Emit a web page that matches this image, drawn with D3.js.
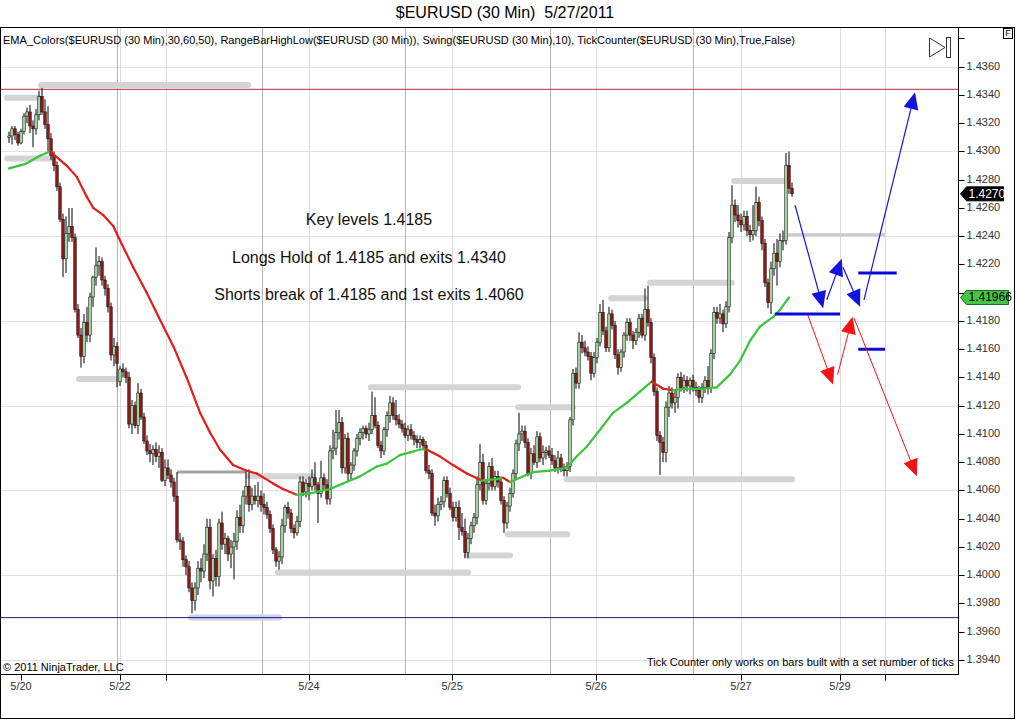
<!DOCTYPE html>
<html><head><meta charset="utf-8">
<script src="https://cdn.jsdelivr.net/npm/d3@7"></script>
<style>body{margin:0;background:#fff}svg{display:block;font-family:"Liberation Sans",Arial,sans-serif}text{white-space:pre}</style>
</head><body><svg id="c" width="1016" height="720"></svg>
<script>
// ---------- DATA ----------
const titleText = "$EURUSD (30 Min)  5/27/2011";
const indicatorText = "EMA_Colors($EURUSD (30 Min),30,60,50), RangeBarHighLow($EURUSD (30 Min)), Swing($EURUSD (30 Min),10), TickCounter($EURUSD (30 Min),True,False)";
const notes = ["Key levels 1.4185","Longs Hold of 1.4185 and exits 1.4340","Shorts break of 1.4185 and 1st exits 1.4060"];
const notePrices = [1.4251,1.4224,1.4198];
const noteBar = 120;

// 30-minute bars: [open, high, low, close]
const ohlc = [
[1.4310,1.4314,1.4306,1.4311],[1.4311,1.4318,1.4305,1.4316],[1.4316,1.4318,1.4308,1.4312],[1.4312,1.4314,1.4304,1.4306],
[1.4306,1.4316,1.4305,1.4314],[1.4314,1.4327,1.4312,1.4325],[1.4325,1.4331,1.4320,1.4328],[1.4328,1.4333,1.4313,1.4318],
[1.4318,1.4322,1.4303,1.4316],[1.4316,1.4330,1.4312,1.4326],[1.4326,1.4343,1.4322,1.4339],[1.4339,1.4345,1.4326,1.4328],
[1.4328,1.4337,1.4316,1.4319],[1.4319,1.4332,1.4300,1.4309],[1.4309,1.4313,1.4294,1.4297],[1.4297,1.4300,1.4286,1.4290],
[1.4290,1.4293,1.4272,1.4275],[1.4275,1.4278,1.4250,1.4252],[1.4252,1.4256,1.4211,1.4224],[1.4224,1.4254,1.4214,1.4242],
[1.4242,1.4260,1.4236,1.4247],[1.4247,1.4260,1.4236,1.4239],[1.4239,1.4242,1.4186,1.4188],[1.4188,1.4192,1.4168,1.4170],
[1.4170,1.4175,1.4147,1.4155],[1.4155,1.4185,1.4150,1.4179],[1.4179,1.4190,1.4165,1.4170],[1.4170,1.4200,1.4165,1.4197],
[1.4197,1.4212,1.4190,1.4211],[1.4211,1.4232,1.4205,1.4219],[1.4219,1.4226,1.4212,1.4222],[1.4222,1.4225,1.4205,1.4209],
[1.4209,1.4212,1.4198,1.4203],[1.4203,1.4206,1.4186,1.4190],[1.4190,1.4193,1.4152,1.4156],[1.4156,1.4168,1.4148,1.4162],
[1.4162,1.4165,1.4133,1.4150],[1.4137,1.4148,1.4134,1.4146],[1.4146,1.4150,1.4140,1.4144],[1.4144,1.4147,1.4136,1.4140],
[1.4140,1.4144,1.4104,1.4107],[1.4107,1.4124,1.4100,1.4120],[1.4120,1.4123,1.4104,1.4106],[1.4106,1.4136,1.4100,1.4129],
[1.4129,1.4132,1.4110,1.4112],[1.4112,1.4115,1.4093,1.4095],[1.4095,1.4099,1.4085,1.4088],[1.4088,1.4093,1.4080,1.4086],
[1.4086,1.4092,1.4078,1.4089],[1.4089,1.4094,1.4080,1.4084],[1.4084,1.4092,1.4076,1.4087],[1.4087,1.4090,1.4066,1.4067],
[1.4067,1.4082,1.4063,1.4076],[1.4076,1.4082,1.4068,1.4071],[1.4071,1.4075,1.4062,1.4066],[1.4066,1.4069,1.4052,1.4056],
[1.4056,1.4073,1.4023,1.4025],[1.4025,1.4030,1.4018,1.4024],[1.4024,1.4027,1.4006,1.4011],[1.4011,1.4014,1.4000,1.4006],
[1.4006,1.4010,1.3988,1.3991],[1.3991,1.3995,1.3973,1.3982],[1.3982,1.3995,1.3975,1.3991],[1.3991,1.4010,1.3986,1.4005],
[1.4005,1.4012,1.3995,1.4003],[1.4003,1.4022,1.3998,1.4015],[1.4015,1.4040,1.4010,1.4034],[1.4034,1.4040,1.3990,1.3996],
[1.3996,1.4015,1.3985,1.4012],[1.4012,1.4018,1.3992,1.3999],[1.3999,1.4040,1.3992,1.4037],[1.4037,1.4045,1.4018,1.4022],
[1.4022,1.4030,1.4015,1.4026],[1.4026,1.4028,1.4010,1.4015],[1.4015,1.4025,1.4005,1.4020],[1.4020,1.4030,1.3997,1.4024],
[1.4024,1.4046,1.4018,1.4041],[1.4041,1.4050,1.4030,1.4035],[1.4035,1.4060,1.4030,1.4056],[1.4056,1.4073,1.4050,1.4063],
[1.4063,1.4075,1.4045,1.4050],[1.4050,1.4062,1.4046,1.4056],[1.4056,1.4064,1.4050,1.4053],[1.4053,1.4066,1.4048,1.4056],
[1.4056,1.4060,1.4045,1.4050],[1.4050,1.4058,1.4043,1.4048],[1.4048,1.4052,1.4040,1.4043],[1.4043,1.4046,1.4030,1.4033],
[1.4033,1.4036,1.4015,1.4018],[1.4018,1.4020,1.4006,1.4010],[1.4010,1.4017,1.4004,1.4013],[1.4013,1.4040,1.4008,1.4035],
[1.4035,1.4050,1.4030,1.4048],[1.4048,1.4052,1.4040,1.4044],[1.4044,1.4047,1.4030,1.4033],[1.4033,1.4036,1.4026,1.4030],
[1.4030,1.4042,1.4028,1.4038],[1.4038,1.4070,1.4034,1.4066],[1.4066,1.4070,1.4056,1.4059],[1.4059,1.4068,1.4055,1.4065],
[1.4065,1.4070,1.4053,1.4063],[1.4063,1.4075,1.4060,1.4069],[1.4069,1.4080,1.4060,1.4064],[1.4064,1.4066,1.4037,1.4058],
[1.4058,1.4081,1.4055,1.4069],[1.4069,1.4072,1.4060,1.4064],[1.4064,1.4068,1.4050,1.4054],[1.4054,1.4092,1.4050,1.4088],
[1.4088,1.4103,1.4082,1.4090],[1.4090,1.4117,1.4085,1.4101],[1.4101,1.4117,1.4096,1.4108],[1.4108,1.4112,1.4072,1.4076],
[1.4076,1.4100,1.4072,1.4097],[1.4097,1.4101,1.4066,1.4072],[1.4072,1.4080,1.4068,1.4078],[1.4078,1.4090,1.4074,1.4088],
[1.4088,1.4100,1.4084,1.4097],[1.4097,1.4104,1.4092,1.4101],[1.4101,1.4106,1.4096,1.4104],[1.4104,1.4106,1.4097,1.4100],
[1.4100,1.4108,1.4095,1.4103],[1.4103,1.4130,1.4100,1.4113],[1.4113,1.4126,1.4104,1.4106],[1.4106,1.4109,1.4090,1.4092],
[1.4092,1.4095,1.4083,1.4088],[1.4088,1.4105,1.4085,1.4103],[1.4103,1.4116,1.4098,1.4113],[1.4113,1.4127,1.4108,1.4122],
[1.4122,1.4126,1.4110,1.4113],[1.4113,1.4124,1.4106,1.4110],[1.4110,1.4114,1.4104,1.4107],[1.4107,1.4110,1.4101,1.4104],
[1.4104,1.4108,1.4097,1.4099],[1.4099,1.4106,1.4095,1.4103],[1.4103,1.4107,1.4096,1.4099],[1.4099,1.4102,1.4092,1.4096],
[1.4096,1.4099,1.4090,1.4094],[1.4094,1.4099,1.4090,1.4096],[1.4096,1.4098,1.4089,1.4092],[1.4092,1.4095,1.4072,1.4074],
[1.4074,1.4078,1.4068,1.4072],[1.4072,1.4075,1.4042,1.4044],[1.4044,1.4050,1.4035,1.4042],[1.4042,1.4055,1.4038,1.4050],
[1.4050,1.4056,1.4046,1.4052],[1.4052,1.4070,1.4048,1.4067],[1.4067,1.4070,1.4055,1.4058],[1.4058,1.4062,1.4046,1.4048],
[1.4048,1.4052,1.4038,1.4041],[1.4041,1.4052,1.4038,1.4048],[1.4048,1.4053,1.4025,1.4034],[1.4034,1.4044,1.4028,1.4031],
[1.4031,1.4040,1.4012,1.4016],[1.4016,1.4030,1.4012,1.4026],[1.4026,1.4038,1.4022,1.4035],[1.4035,1.4044,1.4030,1.4041],
[1.4041,1.4070,1.4036,1.4064],[1.4064,1.4093,1.4060,1.4080],[1.4080,1.4086,1.4050,1.4053],[1.4053,1.4068,1.4050,1.4065],
[1.4065,1.4080,1.4060,1.4077],[1.4077,1.4083,1.4060,1.4063],[1.4063,1.4074,1.4060,1.4070],[1.4070,1.4074,1.4062,1.4066],
[1.4066,1.4070,1.4050,1.4053],[1.4053,1.4056,1.4030,1.4037],[1.4037,1.4052,1.4033,1.4049],[1.4049,1.4062,1.4045,1.4058],
[1.4058,1.4075,1.4055,1.4072],[1.4072,1.4096,1.4068,1.4093],[1.4093,1.4115,1.4088,1.4100],[1.4100,1.4106,1.4095,1.4102],
[1.4102,1.4106,1.4090,1.4094],[1.4094,1.4097,1.4070,1.4072],[1.4072,1.4090,1.4068,1.4086],[1.4086,1.4092,1.4078,1.4080],
[1.4080,1.4102,1.4076,1.4098],[1.4098,1.4101,1.4080,1.4083],[1.4083,1.4092,1.4078,1.4087],[1.4087,1.4091,1.4082,1.4088],
[1.4088,1.4092,1.4083,1.4085],[1.4085,1.4090,1.4078,1.4081],[1.4081,1.4085,1.4073,1.4076],[1.4076,1.4088,1.4072,1.4083],
[1.4083,1.4086,1.4073,1.4076],[1.4076,1.4079,1.4070,1.4074],[1.4074,1.4080,1.4070,1.4077],[1.4077,1.4112,1.4073,1.4110],
[1.4110,1.4146,1.4106,1.4143],[1.4143,1.4147,1.4132,1.4136],[1.4136,1.4172,1.4132,1.4165],[1.4165,1.4170,1.4157,1.4161],
[1.4161,1.4166,1.4155,1.4158],[1.4158,1.4162,1.4152,1.4155],[1.4155,1.4158,1.4138,1.4143],[1.4143,1.4158,1.4140,1.4154],
[1.4154,1.4168,1.4150,1.4165],[1.4165,1.4192,1.4162,1.4186],[1.4186,1.4195,1.4170,1.4173],[1.4173,1.4176,1.4158,1.4161],
[1.4161,1.4190,1.4158,1.4185],[1.4185,1.4188,1.4174,1.4177],[1.4177,1.4180,1.4153,1.4156],[1.4156,1.4160,1.4142,1.4147],
[1.4147,1.4160,1.4144,1.4158],[1.4158,1.4172,1.4154,1.4170],[1.4170,1.4182,1.4166,1.4179],[1.4179,1.4182,1.4166,1.4170],
[1.4170,1.4173,1.4160,1.4166],[1.4166,1.4175,1.4163,1.4172],[1.4172,1.4185,1.4168,1.4182],[1.4182,1.4185,1.4168,1.4170],
[1.4170,1.4203,1.4166,1.4188],[1.4188,1.4205,1.4176,1.4179],[1.4179,1.4182,1.4150,1.4154],[1.4154,1.4157,1.4127,1.4130],
[1.4130,1.4133,1.4095,1.4099],[1.4099,1.4102,1.4071,1.4094],[1.4094,1.4098,1.4080,1.4087],[1.4087,1.4123,1.4080,1.4119],
[1.4119,1.4134,1.4112,1.4129],[1.4129,1.4133,1.4118,1.4122],[1.4122,1.4131,1.4115,1.4126],[1.4126,1.4143,1.4118,1.4140],
[1.4140,1.4144,1.4130,1.4133],[1.4133,1.4142,1.4129,1.4138],[1.4138,1.4141,1.4130,1.4134],[1.4134,1.4140,1.4128,1.4138],
[1.4138,1.4142,1.4130,1.4133],[1.4133,1.4137,1.4127,1.4131],[1.4131,1.4134,1.4122,1.4126],[1.4126,1.4136,1.4122,1.4133],
[1.4133,1.4141,1.4129,1.4138],[1.4138,1.4148,1.4128,1.4133],[1.4133,1.4160,1.4129,1.4157],[1.4157,1.4190,1.4153,1.4186],
[1.4186,1.4190,1.4178,1.4182],[1.4182,1.4192,1.4178,1.4185],[1.4185,1.4188,1.4172,1.4178],[1.4178,1.4194,1.4175,1.4190],
[1.4190,1.4243,1.4186,1.4239],[1.4239,1.4276,1.4235,1.4262],[1.4262,1.4266,1.4250,1.4255],[1.4255,1.4262,1.4246,1.4251],
[1.4251,1.4256,1.4243,1.4248],[1.4248,1.4258,1.4244,1.4254],[1.4254,1.4258,1.4240,1.4244],[1.4244,1.4248,1.4236,1.4241],
[1.4241,1.4262,1.4237,1.4244],[1.4244,1.4275,1.4240,1.4264],[1.4264,1.4268,1.4247,1.4251],[1.4251,1.4254,1.4230,1.4235],
[1.4235,1.4238,1.4204,1.4207],[1.4207,1.4210,1.4189,1.4193],[1.4193,1.4222,1.4185,1.4217],[1.4217,1.4235,1.4212,1.4228],
[1.4228,1.4238,1.4205,1.4222],[1.4222,1.4242,1.4218,1.4237],[1.4237,1.4244,1.4230,1.4237],[1.4237,1.4299,1.4234,1.4290],
[1.4290,1.4300,1.4270,1.4274],[1.4274,1.4278,1.4268,1.4270]
];

// EMA readings (bar index, value)
const emaBars = [0,5.3,10.3,13.7,19.2,22.6,25.9,28.1,31.4,34.8,37,41.4,45.9,50.3,54.8,59.2,63.7,67,70.3,74.7,79.2,82.6,88,91.3,95.9,100.3,107,111.3,117,122.6,125.9,130.3,133.7,137,139.2,143.7,148,152.6,157.6,162.6,164.7,167,170.3,174.7,180.3,185.9,189.2,192.6,197,201.3,205.9,210.3,214.2,218.1,221.4,224.8,231.4,235.9,240.3,243.7,247,250.3,254.8,257,260];
const emaVals = [1.4288,1.4291,1.4297,1.4300,1.4290,1.4282,1.4268,1.4260,1.4255,1.4247,1.4237,1.4218,1.4200,1.4181,1.4162,1.4140,1.4115,1.4101,1.4089,1.4078,1.4074,1.4072,1.4065,1.4061,1.4057,1.4058,1.4061,1.4065,1.4070,1.4077,1.4079,1.4085,1.4087,1.4089,1.4089,1.4084,1.4078,1.4072,1.4067,1.4068,1.4069,1.4066,1.4069,1.4073,1.4074,1.4076,1.4084,1.4091,1.4103,1.4115,1.4122,1.4130,1.4137,1.4132,1.4131,1.4132,1.4132,1.4133,1.4142,1.4152,1.4166,1.4176,1.4183,1.4188,1.41966];

// Swing / range levels: [startBar, endBar, price]
const swingLevels = [[-0.7,9.7,1.4338],[10.6,79.7,1.4347],[-0.6,14.2,1.4295],[23.3,35.3,1.4139],[79.6,101.3,1.4070],[89.7,153,1.4002],[120.6,169.7,1.4133],[169.7,188,1.4119],[152.6,167,1.4014],[166.3,186,1.4029],[185.9,261,1.4068],[200.7,212,1.4196],[213.7,240.9,1.4207],[241.7,258.9,1.4279]];
const rangeLevels = [[56,79.2,1.4073]];
const lowLevels = [[60.6,90,1.3970]];
const pivotLevels = [[259.7,292,1.4241]];
const resistancePrice = 1.4344;
const supportPrice = 1.3970;

// drawn annotations: [fromBar, fromPrice, toBar, toPrice]
const blueArrows = [[262,1.4262,271.4,1.4189],[272.6,1.4195,277.6,1.4224],[278,1.4218,283.7,1.4190],[285,1.4195,302,1.4342]];
const redArrows = [[266.3,1.4184,274.7,1.4135],[276.2,1.4142,281.2,1.4183],[281.7,1.4182,302.6,1.4070]];
const blueLevels = [[255.3,277,1.4185],[283.1,295.9,1.4214],[283.1,292,1.4160]];

// axes
const priceTicks = [1.3940,1.3960,1.3980,1.4000,1.4020,1.4040,1.4060,1.4080,1.4100,1.4120,1.4140,1.4160,1.4180,1.4200,1.4220,1.4240,1.4260,1.4280,1.4300,1.4320,1.4340,1.4360,1.4380];
const priceGrid = [1.3940,1.4000,1.4060,1.4120,1.4180,1.4240,1.4300,1.4360];
const timeTickBars = [4,37,52.3,100,147.7,195.7,244,277,292];
const timeTickLabels = ["5/20","5/22","","5/24","5/25","5/26","5/27","5/29",""];
const sessionBreakBars = [36,84.3,132,180.3,228];
const timeGridBars = [37,52.3,100,147.7,195.7,244,277,292];

// ---------- DRAW ----------
const svg = d3.select("#c");
const x = d3.scaleLinear().domain([-3,316]).range([0,957]);
const y = d3.scaleLinear().domain([1.3940,1.4360]).range([660,66.7]);
const P = {l:0.5, r:958.5, t:27.5, b:674.5};

svg.append("rect").attr("width",1016).attr("height",720).attr("fill","#fff");
svg.append("defs").append("clipPath").attr("id","pc").append("rect")
  .attr("x",P.l).attr("y",P.t).attr("width",P.r-P.l).attr("height",P.b-P.t);
const g = svg.append("g").attr("clip-path","url(#pc)");

// grid
g.selectAll(".hg").data(priceGrid).join("line")
  .attr("x1",P.l).attr("x2",P.r).attr("y1",d=>Math.round(y(d))+0.5).attr("y2",d=>Math.round(y(d))+0.5)
  .attr("stroke","#e2e2e2").attr("stroke-width",1);
g.selectAll(".vg").data(timeGridBars).join("line")
  .attr("x1",d=>Math.round(x(d))+0.5).attr("x2",d=>Math.round(x(d))+0.5).attr("y1",P.t).attr("y2",P.b)
  .attr("stroke","#dcdcdc").attr("stroke-width",1);
g.selectAll(".vs").data(sessionBreakBars).join("line")
  .attr("x1",d=>Math.round(x(d))+0.5).attr("x2",d=>Math.round(x(d))+0.5).attr("y1",P.t).attr("y2",P.b)
  .attr("stroke","#b4b4b4").attr("stroke-width",1);

// levels
function levelLines(data, color, width, cap){
  g.append("g").selectAll("line").data(data).join("line")
    .attr("x1",d=>x(d[0])).attr("x2",d=>x(d[1])).attr("y1",d=>y(d[2])).attr("y2",d=>y(d[2]))
    .attr("stroke",color).attr("stroke-width",width).attr("stroke-linecap",cap);
}
levelLines(lowLevels,"#cfcfee",6,"round");
levelLines(swingLevels,"#d4d4d4",6,"round");
levelLines(rangeLevels,"#a4a4a4",3,"butt");
levelLines(pivotLevels,"#c6cbd3",3,"butt");

// horizontal reference lines
g.append("line").attr("x1",P.l).attr("x2",P.r).attr("y1",y(resistancePrice)).attr("y2",y(resistancePrice))
  .attr("stroke","#b8283c").attr("stroke-width",1);
g.append("line").attr("x1",P.l).attr("x2",P.r).attr("y1",y(supportPrice)).attr("y2",y(supportPrice))
  .attr("stroke","#1c1c7c").attr("stroke-width",1);

// candles
const cg = g.append("g");
cg.selectAll(".w").data(ohlc).join("line")
  .attr("x1",(d,i)=>x(i)).attr("x2",(d,i)=>x(i)).attr("y1",d=>y(d[1])).attr("y2",d=>y(d[2]))
  .attr("stroke","#000").attr("stroke-width",1);
cg.selectAll(".b").data(ohlc).join("rect")
  .attr("x",(d,i)=>x(i)-1.25).attr("width",2.5)
  .attr("y",d=>y(Math.max(d[0],d[3])))
  .attr("height",d=>Math.max(0.8,Math.abs(y(d[0])-y(d[3]))))
  .attr("fill",d=>d[3]>=d[0]?"#a8dca8":"#a01515")
  .attr("stroke","#111").attr("stroke-width",0.6);

// EMA coloured by direction
const emaPts = emaBars.map((b,i)=>[b,emaVals[i]]);
const eg = g.append("g");
eg.selectAll("line").data(d3.pairs(emaPts)).join("line")
  .attr("x1",d=>x(d[0][0])).attr("y1",d=>y(d[0][1])).attr("x2",d=>x(d[1][0])).attr("y2",d=>y(d[1][1]))
  .attr("stroke",d=>d[1][1]>=d[0][1]?"#3cc43c":"#e41c1c").attr("stroke-width",2.2).attr("stroke-linecap","round");

// annotations
levelLines(blueLevels,"#0a0ad8",3,"butt");
function arrows(data,color,width){
  const ag = g.append("g");
  data.forEach(d=>{
    const x1=x(d[0]),y1=y(d[1]),x2=x(d[2]),y2=y(d[3]);
    const dx=x2-x1, dy=y2-y1, len=Math.hypot(dx,dy), ux=dx/len, uy=dy/len;
    const L=17, w=7.5, bx=x2-ux*L, by=y2-uy*L;
    ag.append("line").attr("x1",x1).attr("y1",y1).attr("x2",bx+ux*2).attr("y2",by+uy*2)
      .attr("stroke",color).attr("stroke-width",width);
    ag.append("polygon").attr("points",[[x2,y2],[bx-uy*w,by+ux*w],[bx+uy*w,by-ux*w]].map(p=>p.join(",")).join(" "))
      .attr("fill",color);
  });
}
arrows(blueArrows,"#1414e0",1.2);
arrows(redArrows,"#f01414",1);

// notes
g.append("g").selectAll("text").data(notes).join("text")
  .attr("x",x(noteBar)).attr("y",(d,i)=>y(notePrices[i])).attr("text-anchor","middle").attr("dominant-baseline","middle")
  .attr("font-size",16).attr("fill","#111").text(d=>d);

// frames
const f = svg.append("g").attr("stroke","#000").attr("stroke-width",1).attr("fill","none");
f.append("line").attr("x1",0).attr("x2",1015).attr("y1",P.t).attr("y2",P.t);
f.append("line").attr("x1",P.l).attr("x2",P.l).attr("y1",P.t).attr("y2",719);
f.append("line").attr("x1",1014.5).attr("x2",1014.5).attr("y1",P.t).attr("y2",719);
f.append("line").attr("x1",0).attr("x2",1015).attr("y1",718.5).attr("y2",718.5);
f.append("line").attr("x1",P.l).attr("x2",P.r).attr("y1",P.b).attr("y2",P.b);
f.append("line").attr("x1",P.r).attr("x2",P.r).attr("y1",P.t).attr("y2",P.b);

// price tags (values)
const lastClose = ohlc[ohlc.length-1][3];
const lastEma = emaVals[emaVals.length-1];

// price axis
svg.append("g").selectAll("line").data(priceTicks).join("line")
  .attr("x1",P.r).attr("x2",P.r+6).attr("y1",d=>Math.round(y(d))+0.5).attr("y2",d=>Math.round(y(d))+0.5)
  .attr("stroke","#000");
svg.append("g").selectAll("text")
  .data(priceTicks.filter(d=>d<1.4370 && Math.abs(y(d)-y(lastEma))>9 && Math.abs(y(d)-y(lastClose))>9))
  .join("text")
  .attr("x",P.r+8).attr("y",d=>y(d)).attr("dominant-baseline","middle").attr("font-size",11).attr("fill","#333")
  .text(d=>d.toFixed(4));

// time axis
svg.append("g").selectAll("line").data(timeTickBars).join("line")
  .attr("x1",d=>Math.round(x(d))+0.5).attr("x2",d=>Math.round(x(d))+0.5).attr("y1",P.b).attr("y2",P.b+6)
  .attr("stroke","#000");
svg.append("g").selectAll("text").data(timeTickBars).join("text")
  .attr("x",d=>x(d)).attr("y",690).attr("text-anchor","middle").attr("font-size",11).attr("fill","#333")
  .text((d,i)=>timeTickLabels[i]);

function tag(price,label,fill,stroke,textColor,w){
  const yy=y(price), x0=P.r+2;
  svg.append("polygon").attr("points",[[x0,yy],[x0+6,yy-7],[x0+w,yy-7],[x0+w,yy+7],[x0+6,yy+7]].map(p=>p.join(",")).join(" "))
    .attr("fill",fill).attr("stroke",stroke).attr("stroke-width",1);
  svg.append("text").attr("x",x0+8).attr("y",yy+0.5).attr("dominant-baseline","middle").attr("font-size",12)
    .attr("fill",textColor).text(label);
}
tag(lastClose,lastClose.toFixed(4),"#000","#000","#fff",43);
tag(lastEma,lastEma.toFixed(5),"#44c444","#1d6b1d","#000",48);

// texts
svg.append("text").attr("x",505).attr("y",14).attr("text-anchor","middle").attr("dominant-baseline","middle")
  .attr("font-size",16).attr("fill","#000").text(titleText);
svg.append("text").attr("x",3).attr("y",41).attr("dominant-baseline","middle").attr("font-size",11)
  .attr("textLength",792).attr("lengthAdjust","spacingAndGlyphs").attr("fill","#000").text(indicatorText);
svg.append("text").attr("x",3).attr("y",668).attr("dominant-baseline","middle").attr("font-size",11)
  .attr("fill","#000").text("\u00a9 2011 NinjaTrader, LLC");
svg.append("text").attr("x",954).attr("y",663).attr("text-anchor","end").attr("dominant-baseline","middle").attr("font-size",11)
  .attr("fill","#000").text("Tick Counter only works on bars built with a set number of ticks");

// toolbar icons
svg.append("polygon").attr("points","929.5,38 945,47.5 929.5,57").attr("fill","#fff").attr("stroke","#333").attr("stroke-width",1);
svg.append("rect").attr("x",946.5).attr("y",37.5).attr("width",4).attr("height",20).attr("fill","#fff").attr("stroke","#333");
svg.append("rect").attr("x",1003.5).attr("y",28.5).attr("width",9).attr("height",10).attr("fill","#fff").attr("stroke","#000");
svg.append("text").attr("x",1008).attr("y",34).attr("text-anchor","middle").attr("dominant-baseline","middle")
  .attr("font-size",9).attr("fill","#000").text("F");
</script></body></html>
